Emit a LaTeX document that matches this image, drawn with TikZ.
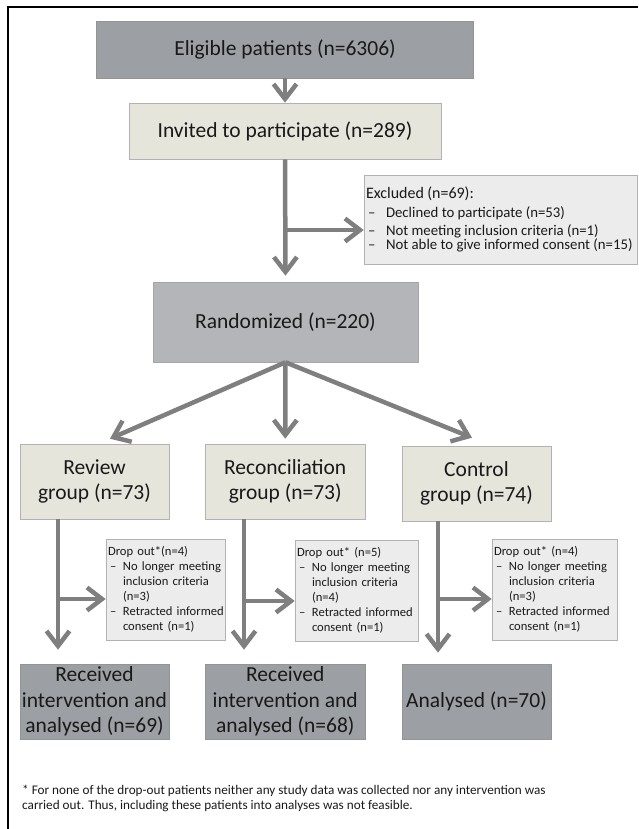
\documentclass[tikz,border=0pt]{standalone}
\usepackage{fontspec}
\setmainfont{Carlito}
\usetikzlibrary{arrows.meta}
\definecolor{darkbox}{HTML}{9C9FA3}
\definecolor{midbox}{HTML}{B3B5B8}
\definecolor{beige}{HTML}{E6E5DC}
\definecolor{lightbox}{HTML}{ECECEC}
\definecolor{arrowgray}{HTML}{7F7F7F}
\tikzset{
  base/.style={rectangle, inner sep=0pt, align=center, text=black!90,
    font=\fontsize{21.5}{25.5}\selectfont},
  darkrect/.style={base, fill=darkbox, draw=black!42, line width=0.6pt},
  midrect/.style={base, fill=midbox, draw=black!35, line width=0.6pt},
  beigerect/.style={base, fill=beige, draw=black!30, line width=0.6pt},
  notebox/.style={rectangle, fill=lightbox, draw=black!30, line width=0.6pt,
    inner xsep=2pt, inner ysep=0pt, align=left, text=black!90},
  arr/.style={draw=arrowgray, line width=4.5pt, -{Straight Barb[length=15pt,width=23pt]}},
}
\newcommand{\dashitem}[1]{\mbox{\makebox[15pt][l]{\hspace{2pt}–}#1}}
\newcommand{\contitem}[1]{\mbox{\hspace{15pt}#1}}
\newcommand{\exitem}[1]{\mbox{\makebox[20pt][l]{\hspace{2pt}–}#1}}
\begin{document}
\begin{tikzpicture}[x=1pt, y=-1pt]
\useasboundingbox (0,0) rectangle (638,829);
% frame
\draw[line width=1.4pt] (8,829) -- (8,7) -- (638,7);

% main column
\node[darkrect, minimum width=376.5pt, minimum height=57pt] (elig) at (285,49.5) {Eligible patients (n=6306)};
\node[beigerect, minimum width=312pt, minimum height=56pt] (inv) at (285,131) {Invited to participate (n=289)};
\node[notebox, text width=269pt, minimum height=89pt] (excl) at (500.5,219.5)
 {{\fontsize{16}{19}\selectfont Excluded (n=69):}\\[1pt]
  \fontsize{14.8}{18}\selectfont
  \exitem{Declined to participate (n=53)}\\
  \exitem{Not meeting inclusion criteria (n=1)}\\
  \exitem{Not able to give informed consent (n=15)}};
\node[midrect, minimum width=265pt, minimum height=80pt] (rand) at (285.5,322) {Randomized (n=220)};

% groups
\node[beigerect, minimum width=149pt, minimum height=75pt] (rev) at (94.5,481.5) {Review\\group (n=73)};
\node[beigerect, minimum width=159.5pt, minimum height=75pt] (rec) at (285.25,481.5) {Reconciliation\\group (n=73)};
\node[beigerect, minimum width=149pt, minimum height=75pt] (ctl) at (476.5,483.5) {Control\\group (n=74)};

% drop-out boxes
\node[notebox, text width=115pt, minimum height=101pt, font=\fontsize{12.6}{15}\selectfont] (d1) at (165.5,589.5)
 {Drop out*(n=4)\\
  \dashitem{No longer meeting}\\
  \contitem{inclusion criteria}\\
  \contitem{(n=3)}\\
  \dashitem{Retracted informed}\\
  \contitem{consent (n=1)}};
\node[notebox, text width=119pt, minimum height=101pt, font=\fontsize{12.6}{15}\selectfont] (d2) at (356.5,590.5)
 {Drop out* (n=5)\\
  \dashitem{No longer meeting}\\
  \contitem{inclusion criteria}\\
  \contitem{(n=4)}\\
  \dashitem{Retracted informed}\\
  \contitem{consent (n=1)}};
\node[notebox, text width=121pt, minimum height=101pt, font=\fontsize{12.6}{15}\selectfont] (d3) at (554.5,589.5)
 {Drop out* (n=4)\\
  \dashitem{No longer meeting}\\
  \contitem{inclusion criteria}\\
  \contitem{(n=3)}\\
  \dashitem{Retracted informed}\\
  \contitem{consent (n=1)}};

% outcome boxes
\node[darkrect, minimum width=149pt, minimum height=75pt] (o1) at (94.5,701.5) {Received\\intervention and\\analysed (n=69)};
\node[darkrect, minimum width=159.5pt, minimum height=75pt] (o2) at (285.25,701.5) {Received\\intervention and\\analysed (n=68)};
\node[darkrect, minimum width=149pt, minimum height=75pt] (o3) at (476.5,701.5) {Analysed (n=70)};

% footnote
\node[anchor=north west, inner sep=0pt, align=left, text=black!90,
  font=\fontsize{13.2}{15}\selectfont] (fn) at (22,785)
 {* For none of the drop-out patients neither any study data was collected nor any intervention was\\
  carried out. Thus, including these patients into analyses was not feasible.};

% connectors: main column
\draw[arr] (elig.south) -- (inv.north);
\coordinate (b0) at ([yshift=-10.5pt]excl.west);
\draw[arr] (inv.south) -- ([yshift=6pt]rand.north);
\draw[arr] (inv.south |- b0) -- (b0);

% randomisation
\draw[arr] (rand.south) -- ([xshift=15.5pt,yshift=5pt]rev.north);
\draw[arr] (rand.south) -- ([yshift=5pt]rec.north);
\draw[arr] (rand.south) -- ([xshift=-4.5pt,yshift=8pt]ctl.north);

% group columns
\coordinate (v1) at ([xshift=-36.5pt]rev.south);
\coordinate (v2) at ([xshift=-41.25pt]rec.south);
\coordinate (v3) at ([xshift=-38.5pt]ctl.south);
\coordinate (e1) at ([yshift=14pt]o1.north -| v1);
\coordinate (e2) at ([yshift=14pt]o2.north -| v2);
\coordinate (e3) at ([yshift=11pt]o3.north -| v3);
\draw[arr] (v1) -- (e1);
\draw[arr] (v2) -- (e2);
\draw[arr] (v3) -- (e3);
\coordinate (t1) at ([yshift=-9.5pt]d1.west);
\coordinate (t2) at ([yshift=-10.5pt]d2.west);
\coordinate (t3) at ([yshift=-9.5pt]d3.west);
\draw[arr] (v1 |- t1) -- (t1);
\draw[arr] (v2 |- t2) -- (t2);
\draw[arr] (v3 |- t3) -- (t3);
\end{tikzpicture}
\end{document}
